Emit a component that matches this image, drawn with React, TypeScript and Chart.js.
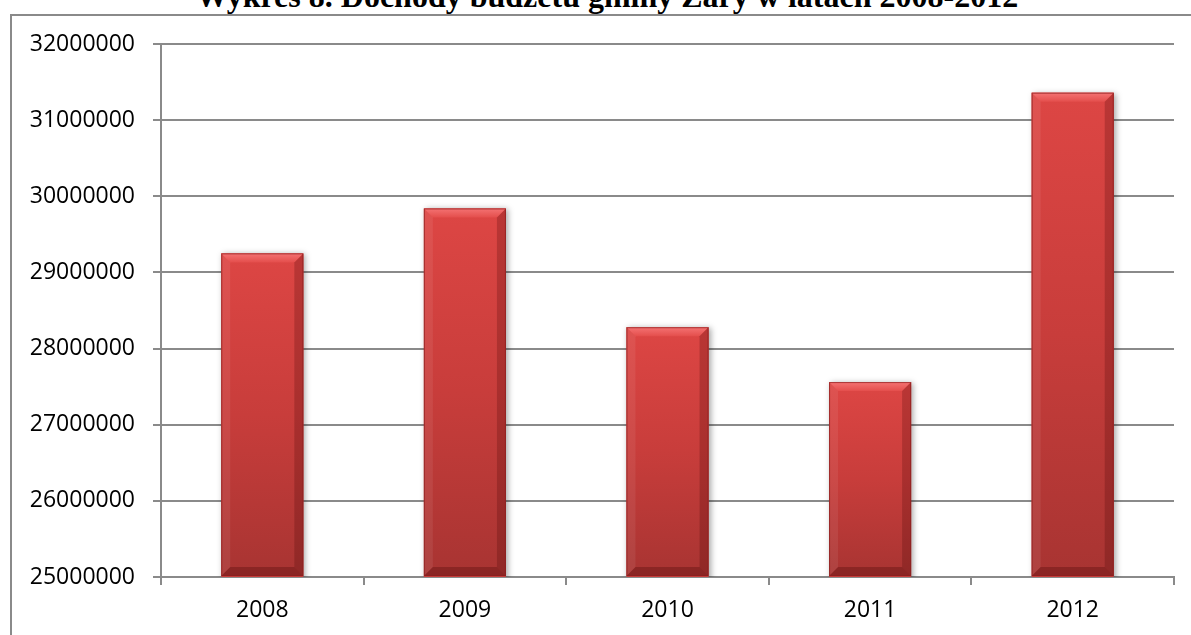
import { useEffect, useRef } from "react";
import { Chart, registerables } from "chart.js";

Chart.register(...registerables);

const chartTitle = "Wykres 8. Dochody budżetu gminy Żary w latach 2008-2012";
const years = ["2008", "2009", "2010", "2011", "2012"];
const revenues = [29250000, 29840000, 28280000, 27560000, 31360000];
const yMin = 25000000;
const yMax = 32000000;
const yStep = 1000000;

const GRID = "#8a8a8a";
const FONT = "'Open Sans', 'DejaVu Sans', sans-serif";

const bevelPlugin = {
  id: "bevel",
  beforeDatasetsDraw(chart: any) {
    const ctx = chart.ctx;
    ctx.save();
    ctx.shadowColor = "rgba(0,0,0,0.35)";
    ctx.shadowBlur = 6;
    ctx.shadowOffsetX = 2;
    ctx.shadowOffsetY = 1;
  },
  afterDatasetsDraw(chart: any) {
    const ctx = chart.ctx;
    ctx.restore();
    const area = chart.chartArea;
    const meta = chart.getDatasetMeta(0);
    meta.data.forEach((bar: any) => {
      const p = bar.getProps(["x", "y", "width", "base"], true);
      const l = p.x - p.width / 2;
      const r = p.x + p.width / 2;
      const t = Math.max(Math.min(p.y, p.base), area.top);
      const b = Math.min(Math.max(p.y, p.base), area.bottom - 1);
      const bv = 9;
      ctx.save();
      ctx.beginPath();
      ctx.rect(area.left, area.top, area.right - area.left, area.bottom - area.top);
      ctx.clip();
      // face
      const g = ctx.createLinearGradient(0, t, 0, b);
      g.addColorStop(0, "#dd4644");
      g.addColorStop(0.5, "#c83d3b");
      g.addColorStop(1, "#a83432");
      ctx.fillStyle = g;
      ctx.fillRect(l, t, r - l, b - t);
      // top bevel
      const gt = ctx.createLinearGradient(0, t, 0, t + bv);
      gt.addColorStop(0, "#f47373");
      gt.addColorStop(1, "#e44e4c");
      ctx.fillStyle = gt;
      ctx.beginPath();
      ctx.moveTo(l, t);
      ctx.lineTo(r, t);
      ctx.lineTo(r - bv, t + bv);
      ctx.lineTo(l + bv, t + bv);
      ctx.closePath();
      ctx.fill();
      // left bevel
      ctx.fillStyle = "rgba(255,255,255,0.07)";
      ctx.beginPath();
      ctx.moveTo(l, t);
      ctx.lineTo(l + bv, t + bv);
      ctx.lineTo(l + bv, b - bv);
      ctx.lineTo(l, b);
      ctx.closePath();
      ctx.fill();
      // right bevel
      ctx.fillStyle = "rgba(60,0,0,0.22)";
      ctx.beginPath();
      ctx.moveTo(r, t);
      ctx.lineTo(r - bv, t + bv);
      ctx.lineTo(r - bv, b - bv);
      ctx.lineTo(r, b);
      ctx.closePath();
      ctx.fill();
      // bottom bevel
      ctx.fillStyle = "rgba(60,0,0,0.28)";
      ctx.beginPath();
      ctx.moveTo(l, b);
      ctx.lineTo(l + bv, b - bv);
      ctx.lineTo(r - bv, b - bv);
      ctx.lineTo(r, b);
      ctx.closePath();
      ctx.fill();
      // edge
      ctx.strokeStyle = "rgba(140,30,30,0.7)";
      ctx.lineWidth = 1;
      ctx.strokeRect(l + 0.5, t + 0.5, r - l - 1, b - t - 1);
      ctx.restore();
    });
  },
};

export default function App() {
  const canvasRef = useRef<HTMLCanvasElement | null>(null);

  useEffect(() => {
    if (!canvasRef.current) return;
    const chart = new Chart(canvasRef.current, {
      type: "bar",
      data: {
        labels: years,
        datasets: [
          {
            data: revenues,
            backgroundColor: "#c83d3b",
            borderWidth: 0,
            barPercentage: 0.405,
            categoryPercentage: 1,
          },
        ],
      },
      options: {
        animation: false,
        responsive: false,
        maintainAspectRatio: false,
        layout: { padding: { top: 44, right: 17, left: 0, bottom: 0 } },
        plugins: {
          legend: { display: false },
          title: { display: false },
          tooltip: { enabled: false },
        },
        scales: {
          x: {
            offset: true,
            grid: {
              offset: true,
              drawOnChartArea: false,
              drawTicks: true,
              tickLength: 8,
              color: GRID,
              lineWidth: 2,
            },
            border: { display: true, color: GRID, width: 2 },
            ticks: {
              color: "#000",
              font: { family: FONT, size: 23 },
              padding: 12,
            },
            afterFit(scale: any) {
              scale.height = 58;
            },
          },
          y: {
            min: yMin,
            max: yMax,
            grid: {
              color: GRID,
              lineWidth: 2,
              drawTicks: true,
              tickLength: 8,
            },
            border: { display: true, color: GRID, width: 2 },
            ticks: {
              stepSize: yStep,
              color: "#000",
              font: { family: FONT, size: 23 },
              padding: 18,
              callback: (v: any) => String(v),
            },
            afterFit(scale: any) {
              scale.width = 161;
            },
          },
        },
      },
      plugins: [bevelPlugin],
    });
    return () => chart.destroy();
  }, []);

  return (
    <div
      style={{
        position: "fixed",
        left: 0,
        top: 0,
        width: 1191,
        height: 635,
        overflow: "hidden",
        background: "#fff",
      }}
    >
      <div
        style={{
          position: "absolute",
          left: 607,
          top: -20,
          transform: "translateX(-50%)",
          whiteSpace: "nowrap",
          fontFamily: "'Liberation Serif', 'Times New Roman', serif",
          fontWeight: "bold",
          fontSize: 32,
          lineHeight: "32px",
          color: "#000",
        }}
      >
        {chartTitle}
      </div>
      <div
        style={{
          position: "absolute",
          left: 10,
          top: 14,
          width: 1300,
          height: 800,
          borderTop: "2px solid #8a8a8a",
          borderLeft: "2px solid #8a8a8a",
        }}
      />
      <canvas
        ref={canvasRef}
        width={1191}
        height={635}
        style={{ position: "absolute", left: 0, top: 0 }}
      />
    </div>
  );
}
